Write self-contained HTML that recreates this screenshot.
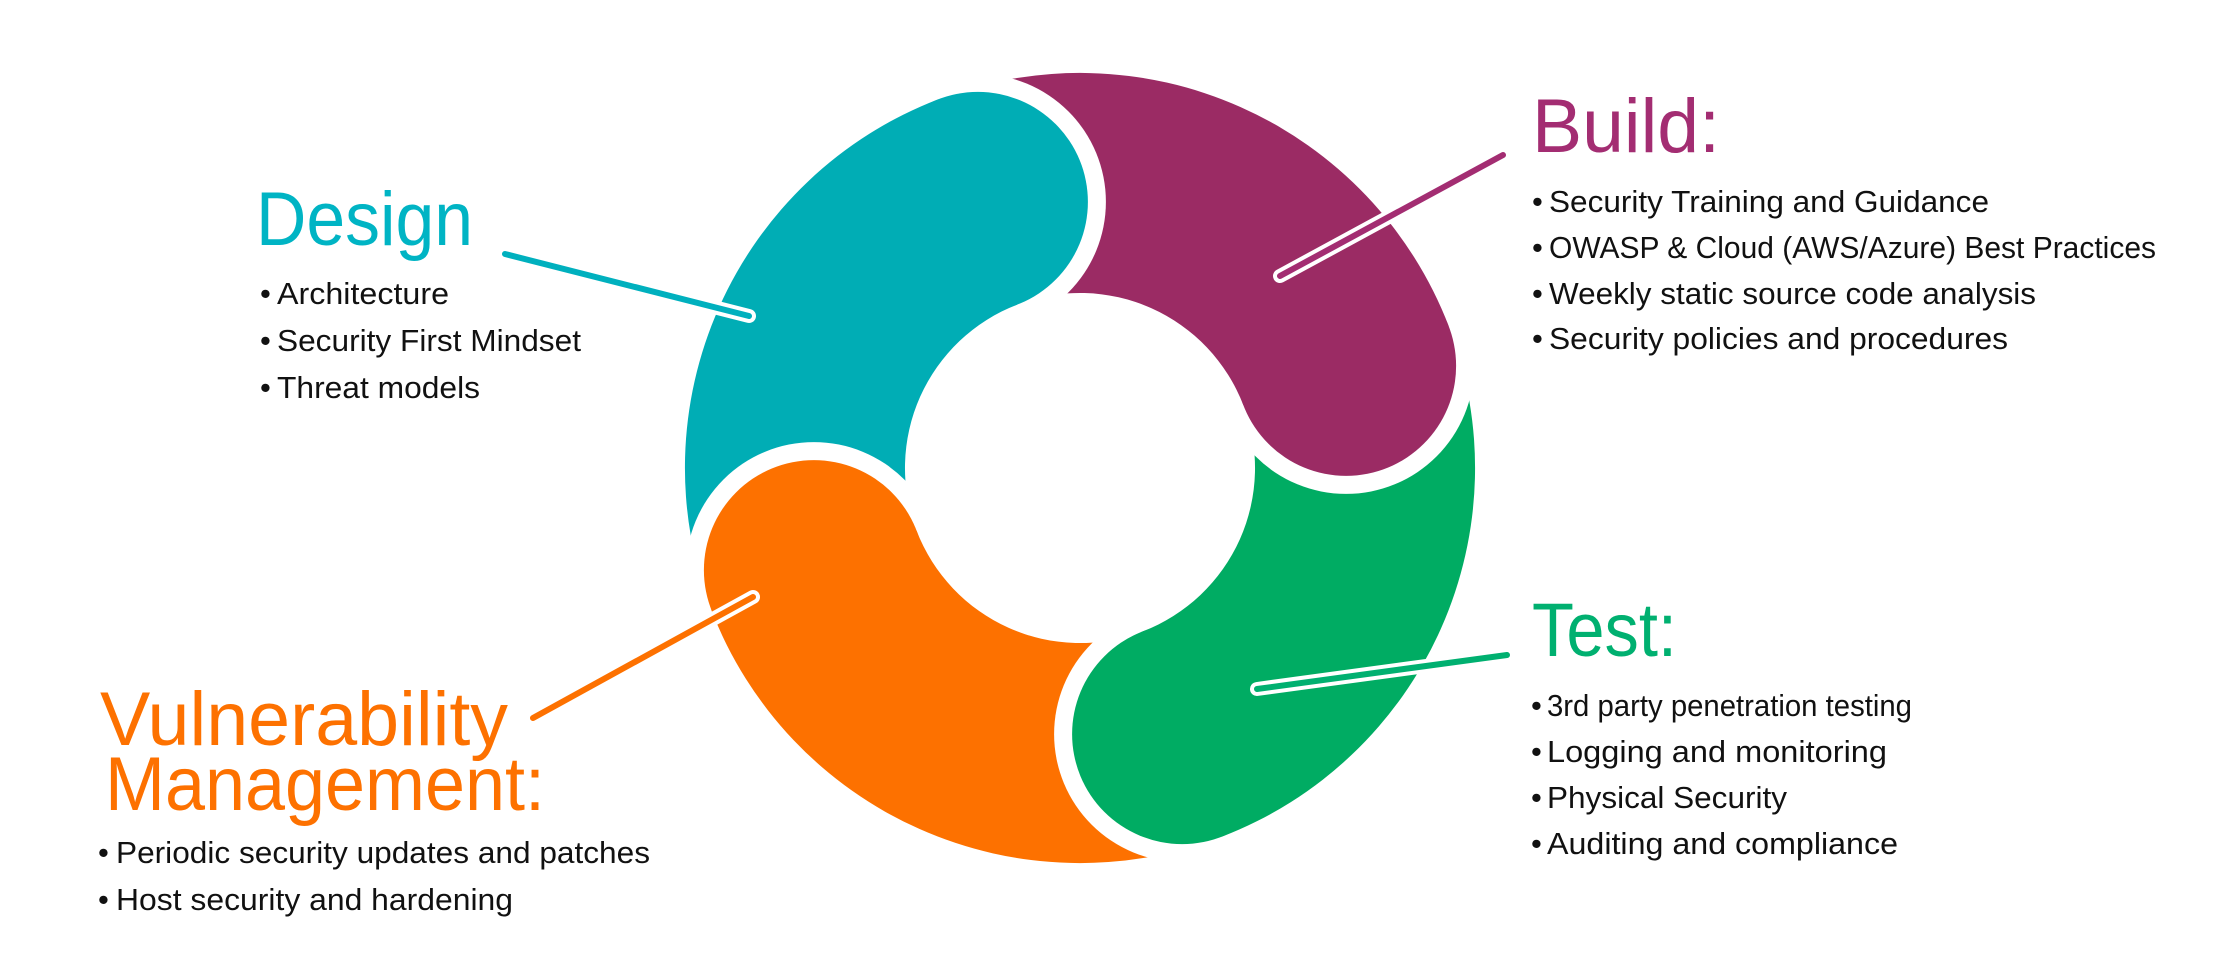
<!DOCTYPE html>
<html><head><meta charset="utf-8"><style>
html,body{margin:0;padding:0;background:#fff;}
svg{display:block;}
text{font-family:"Liberation Sans",sans-serif;}
.b{font-size:31px;fill:#111;}
.t{font-size:76px;}
</style></head><body>
<svg width="2228" height="978" viewBox="0 0 2228 978" xmlns="http://www.w3.org/2000/svg">
<defs>
<mask id="mT" maskUnits="userSpaceOnUse" x="0" y="0" width="2228" height="978">
<path d="M711.2,609.6 A395,395 0 0 1 938.4,99.2 L1017.3,304.6 A175,175 0 0 0 916.6,530.7 Z" fill="#fff"/>
<circle cx="977.9" cy="201.9" r="110" fill="#fff"/>
<circle cx="813.9" cy="570.1" r="128" fill="#000"/>
</mask>
<mask id="mO" maskUnits="userSpaceOnUse" x="0" y="0" width="2228" height="978">
<path d="M1221.6,836.8 A395,395 0 0 1 711.2,609.6 L916.6,530.7 A175,175 0 0 0 1142.7,631.4 Z" fill="#fff"/>
<circle cx="813.9" cy="570.1" r="110" fill="#fff"/>
<circle cx="1182.1" cy="734.1" r="128" fill="#000"/>
</mask>
<mask id="mG" maskUnits="userSpaceOnUse" x="0" y="0" width="2228" height="978">
<path d="M1448.8,326.4 A395,395 0 0 1 1221.6,836.8 L1142.7,631.4 A175,175 0 0 0 1243.4,405.3 Z" fill="#fff"/>
<circle cx="1182.1" cy="734.1" r="110" fill="#fff"/>
<circle cx="1346.1" cy="365.9" r="128" fill="#000"/>
</mask>
<mask id="mP" maskUnits="userSpaceOnUse" x="0" y="0" width="2228" height="978">
<path d="M938.4,99.2 A395,395 0 0 1 1448.8,326.4 L1243.4,405.3 A175,175 0 0 0 1017.3,304.6 Z" fill="#fff"/>
<circle cx="1346.1" cy="365.9" r="110" fill="#fff"/>
<circle cx="977.9" cy="201.9" r="128" fill="#000"/>
</mask>
</defs>
<rect x="0" y="0" width="2228" height="978" fill="#00ADB5" mask="url(#mT)"/>
<rect x="0" y="0" width="2228" height="978" fill="#FD7100" mask="url(#mO)"/>
<rect x="0" y="0" width="2228" height="978" fill="#00AC63" mask="url(#mG)"/>
<rect x="0" y="0" width="2228" height="978" fill="#9B2B64" mask="url(#mP)"/>

<g stroke-linecap="round" fill="none">
<line x1="505" y1="254" x2="749" y2="316" stroke="#fff" stroke-width="14"/>
<line x1="505" y1="254" x2="749" y2="316" stroke="#00B0BE" stroke-width="6"/>
<line x1="1503" y1="155" x2="1280" y2="276" stroke="#fff" stroke-width="14"/>
<line x1="1503" y1="155" x2="1280" y2="276" stroke="#A32D72" stroke-width="6"/>
<line x1="1507" y1="655" x2="1257" y2="689" stroke="#fff" stroke-width="14"/>
<line x1="1507" y1="655" x2="1257" y2="689" stroke="#00B070" stroke-width="6"/>
<line x1="533" y1="718" x2="753" y2="597" stroke="#fff" stroke-width="14"/>
<line x1="533" y1="718" x2="753" y2="597" stroke="#FD7100" stroke-width="6"/>
</g>

<text class="t" x="256" y="245" fill="#00B4C4" textLength="217" lengthAdjust="spacingAndGlyphs">Design</text>
<text class="b" x="260" y="304">•</text><text class="b" x="277" y="304" textLength="172" lengthAdjust="spacingAndGlyphs">Architecture</text>
<text class="b" x="260" y="351">•</text><text class="b" x="277" y="351" textLength="304" lengthAdjust="spacingAndGlyphs">Security First Mindset</text>
<text class="b" x="260" y="398">•</text><text class="b" x="277" y="398" textLength="203" lengthAdjust="spacingAndGlyphs">Threat models</text>

<text class="t" x="1532" y="152" fill="#A32D72" textLength="188" lengthAdjust="spacingAndGlyphs">Build:</text>
<text class="b" x="1532" y="212">•</text><text class="b" x="1549" y="212" textLength="440" lengthAdjust="spacingAndGlyphs">Security Training and Guidance</text>
<text class="b" x="1532" y="258">•</text><text class="b" x="1549" y="258" textLength="607" lengthAdjust="spacingAndGlyphs">OWASP &amp; Cloud (AWS/Azure) Best Practices</text>
<text class="b" x="1532" y="304">•</text><text class="b" x="1549" y="304" textLength="487" lengthAdjust="spacingAndGlyphs">Weekly static source code analysis</text>
<text class="b" x="1532" y="349">•</text><text class="b" x="1549" y="349" textLength="459" lengthAdjust="spacingAndGlyphs">Security policies and procedures</text>

<text class="t" x="1532" y="656" fill="#00B070" textLength="145" lengthAdjust="spacingAndGlyphs">Test:</text>
<text class="b" x="1531" y="716">•</text><text class="b" x="1547" y="716" textLength="365" lengthAdjust="spacingAndGlyphs">3rd party penetration testing</text>
<text class="b" x="1531" y="762">•</text><text class="b" x="1547" y="762" textLength="340" lengthAdjust="spacingAndGlyphs">Logging and monitoring</text>
<text class="b" x="1531" y="808">•</text><text class="b" x="1547" y="808" textLength="240" lengthAdjust="spacingAndGlyphs">Physical Security</text>
<text class="b" x="1531" y="854">•</text><text class="b" x="1547" y="854" textLength="351" lengthAdjust="spacingAndGlyphs">Auditing and compliance</text>

<text class="t" x="100" y="745" fill="#FD7100" textLength="408" lengthAdjust="spacingAndGlyphs">Vulnerability</text>
<text class="t" x="105" y="810" fill="#FD7100" textLength="440" lengthAdjust="spacingAndGlyphs">Management:</text>
<text class="b" x="98" y="863">•</text><text class="b" x="116" y="863" textLength="534" lengthAdjust="spacingAndGlyphs">Periodic security updates and patches</text>
<text class="b" x="98" y="910">•</text><text class="b" x="116" y="910" textLength="397" lengthAdjust="spacingAndGlyphs">Host security and hardening</text>
</svg>
</body></html>
